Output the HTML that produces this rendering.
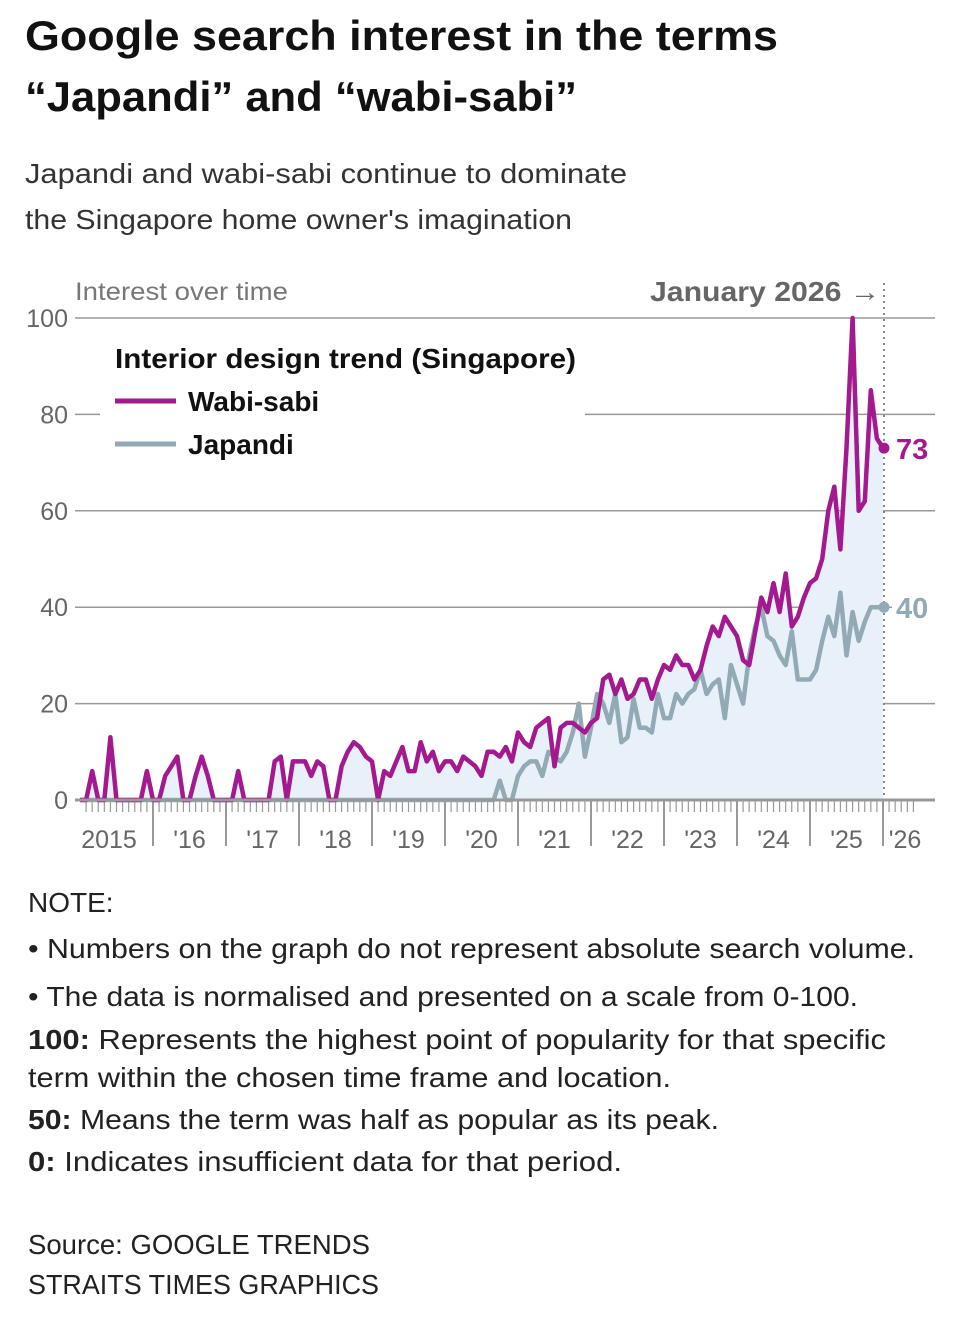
<!DOCTYPE html>
<html><head><meta charset="utf-8"><style>
html,body{margin:0;padding:0;background:#fff;}
svg{display:block;font-family:"Liberation Sans",sans-serif;}
</style></head><body>
<svg id="chart" width="960" height="1338" viewBox="0 0 960 1338" xmlns="http://www.w3.org/2000/svg">
<text x="25" y="50" font-size="42" font-weight="bold" fill="#111" textLength="753" lengthAdjust="spacingAndGlyphs">Google search interest in the terms</text>
<text x="25" y="111" font-size="42" font-weight="bold" fill="#111" textLength="552" lengthAdjust="spacingAndGlyphs">“Japandi” and “wabi-sabi”</text>
<text x="25" y="183" font-size="28" fill="#333" textLength="602" lengthAdjust="spacingAndGlyphs">Japandi and wabi-sabi continue to dominate</text>
<text x="25" y="229" font-size="28" fill="#333" textLength="547" lengthAdjust="spacingAndGlyphs">the Singapore home owner's imagination</text>
<g id="plot"></g>
<g font-size="28" fill="#222">
<text x="28" y="912">NOTE:</text>
<text x="28" y="958" textLength="887" lengthAdjust="spacingAndGlyphs">• Numbers on the graph do not represent absolute search volume.</text>
<text x="28" y="1006" textLength="830" lengthAdjust="spacingAndGlyphs">• The data is normalised and presented on a scale from 0-100.</text>
<text x="28" y="1049" textLength="858" lengthAdjust="spacingAndGlyphs"><tspan font-weight="bold">100:</tspan> Represents the highest point of popularity for that specific</text>
<text x="28" y="1087" textLength="643" lengthAdjust="spacingAndGlyphs">term within the chosen time frame and location.</text>
<text x="28" y="1129" textLength="691" lengthAdjust="spacingAndGlyphs"><tspan font-weight="bold">50:</tspan> Means the term was half as popular as its peak.</text>
<text x="28" y="1171" textLength="594" lengthAdjust="spacingAndGlyphs"><tspan font-weight="bold">0:</tspan> Indicates insufficient data for that period.</text>
<text x="28" y="1254" textLength="342" lengthAdjust="spacingAndGlyphs">Source: GOOGLE TRENDS</text>
<text x="28" y="1294" textLength="351" lengthAdjust="spacingAndGlyphs">STRAITS TIMES GRAPHICS</text>
</g>
</svg>
<script>
const wabiSabi = [0,0,6,0,0,13,0,0,0,0,0,6,
0,0,5,7,9,0,0,5,9,5,0,0,
0,0,6,0,0,0,0,0,8,9,0,8,
8,8,5,8,7,0,0,7,10,12,11,9,
8,0,6,5,8,11,6,6,12,8,10,6,
8,8,6,9,8,7,5,10,10,9,11,8,
14,12,11,15,16,17,7,15,16,16,15,14,
16,17,25,26,22,25,21,22,25,25,21,25,
28,27,30,28,28,25,27,32,36,34,38,36,
34,29,28,35,42,39,45,39,47,36,38,42,
45,46,50,60,65,52,73,100,60,62,85,75,
73];
const japandi = [0,0,0,0,0,0,0,0,0,0,0,0,
0,0,0,0,0,0,0,0,0,0,0,0,
0,0,0,0,0,0,0,0,0,0,0,0,
0,0,0,0,0,0,0,0,0,0,0,0,
0,0,0,0,0,0,0,0,0,0,0,0,
0,0,0,0,0,0,0,0,0,4,0,0,
5,7,8,8,5,10,9,8,10,14,20,9,
15,22,20,16,22,12,13,21,15,15,14,22,
17,17,22,20,22,23,27,22,24,25,17,28,
24,20,30,36,40,34,33,30,28,35,25,25,
25,27,33,38,34,43,30,39,33,37,40,40,
40];
const yTicks = [0,20,40,60,80,100];
const yearLabels = ["2015","'16","'17","'18","'19","'20","'21","'22","'23","'24","'25","'26"];
const lastLabelWabi = "73";
const lastLabelJapandi = "40";

const NS="http://www.w3.org/2000/svg";
const plot=document.getElementById('plot');
const X0=80, X1=883, Y0=800, Y100=318;
const nMonths = wabiSabi.length-1;
function xs(i){return X0+(X1-X0)*i/nMonths;}
function ys(v){return Y0+(Y100-Y0)*v/100;}
function mk(tag,attrs){const e=document.createElementNS(NS,tag);for(const k in attrs)e.setAttribute(k,attrs[k]);plot.appendChild(e);return e;}

yTicks.forEach(t=>{
  const y=ys(t);
  if(t>0){
    const g=mk('line',{x1: t===80?585:75, x2:935, y1:y, y2:y, stroke:'#999','stroke-width':1.5});
    
    
    if(t===80){const g2=mk('line',{x1:75,x2:100,y1:y,y2:y,stroke:'#999','stroke-width':1.5});
      
      }
  }
  const tx=mk('text',{x:68,y:y+9,'text-anchor':'end','font-size':25,fill:'#666'});
  tx.textContent=t;
  
  
});

let d='M'+xs(0)+','+Y0;
for(let i=0;i<=nMonths;i++){d+=' L'+xs(i)+','+ys(Math.max(wabiSabi[i],japandi[i]));}
d+=' L'+xs(nMonths)+','+Y0+' Z';
const area=mk('path',{d:d,fill:'#e8f0fa'});



const dl=mk('line',{x1:xs(nMonths)+1,x2:xs(nMonths)+1,y1:283,y2:Y0,stroke:'#888','stroke-width':2,'stroke-dasharray':'2,4'});



for(let i=0;i<=nMonths+5;i++){
  const x=X0+(X1-X0)*i/nMonths;
  const major=i%12===0;
  const tk=mk('line',{x1:x,x2:x,y1:Y0,y2:major?(i===0?Y0:Y0+46):Y0+12,stroke:'#999','stroke-width':major?2:1.2});
  
  
}
yearLabels.forEach((lab,k)=>{
  const cx = k===0 ? 109 : (k===11 ? X1+22 : X0+(X1-X0)*(k*12+6)/nMonths);
  const tx=mk('text',{x:cx,y:848,'text-anchor':'middle','font-size':25,fill:'#666'});
  tx.textContent=lab;
  
  
});

function line(arr,color,name){
  let p='';
  arr.forEach((v,i)=>{p+=(i?' L':'M')+xs(i).toFixed(1)+','+ys(v).toFixed(1);});
  const e=mk('path',{d:p,fill:'none',stroke:color,'stroke-width':4.5,'stroke-linejoin':'round'});
  
  
}
line(japandi,'#92aab5','japandi-line');
line(wabiSabi,'#a3198f','wabi-sabi-line');

const ax=mk('line',{x1:75,x2:935,y1:Y0,y2:Y0,stroke:'#999','stroke-width':3});



const bg=mk('rect',{x:892,y:ys(japandi[nMonths])-16,width:44,height:32,fill:'#fff'});



const dw=mk('circle',{cx:xs(nMonths)+1,cy:ys(wabiSabi[nMonths]),r:5.5,fill:'#a3198f'});


const dj=mk('circle',{cx:xs(nMonths)+1,cy:ys(japandi[nMonths]),r:5.5,fill:'#92aab5'});


const lw=mk('text',{x:896,y:ys(wabiSabi[nMonths])+11,'font-size':29,'font-weight':'bold',fill:'#a3198f'});
lw.textContent=lastLabelWabi;


const lj=mk('text',{x:896,y:ys(japandi[nMonths])+11,'font-size':29,'font-weight':'bold',fill:'#92aab5'});
lj.textContent=lastLabelJapandi;



const io=mk('text',{x:75,y:300,'font-size':25,fill:'#777',textLength:213,lengthAdjust:'spacingAndGlyphs'});
io.textContent='Interest over time';


const jn=mk('text',{x:650,y:301,'font-size':28,'font-weight':'bold',fill:'#666',textLength:230,lengthAdjust:'spacingAndGlyphs'});
jn.textContent='January 2026 →';



const lt=mk('text',{x:115,y:368,'font-size':28,'font-weight':'bold',fill:'#111',textLength:461,lengthAdjust:'spacingAndGlyphs'});
lt.textContent='Interior design trend (Singapore)';


[['Wabi-sabi','#a3198f',401],['Japandi','#92aab5',444]].forEach(([n,c,y])=>{
  const l=mk('line',{x1:115,x2:176,y1:y,y2:y,stroke:c,'stroke-width':5});
  
  
  const t=mk('text',{x:188,y:y+10,'font-size':28,'font-weight':'bold',fill:'#111'});
  t.textContent=n;
  
  
});
</script>
</body></html>
